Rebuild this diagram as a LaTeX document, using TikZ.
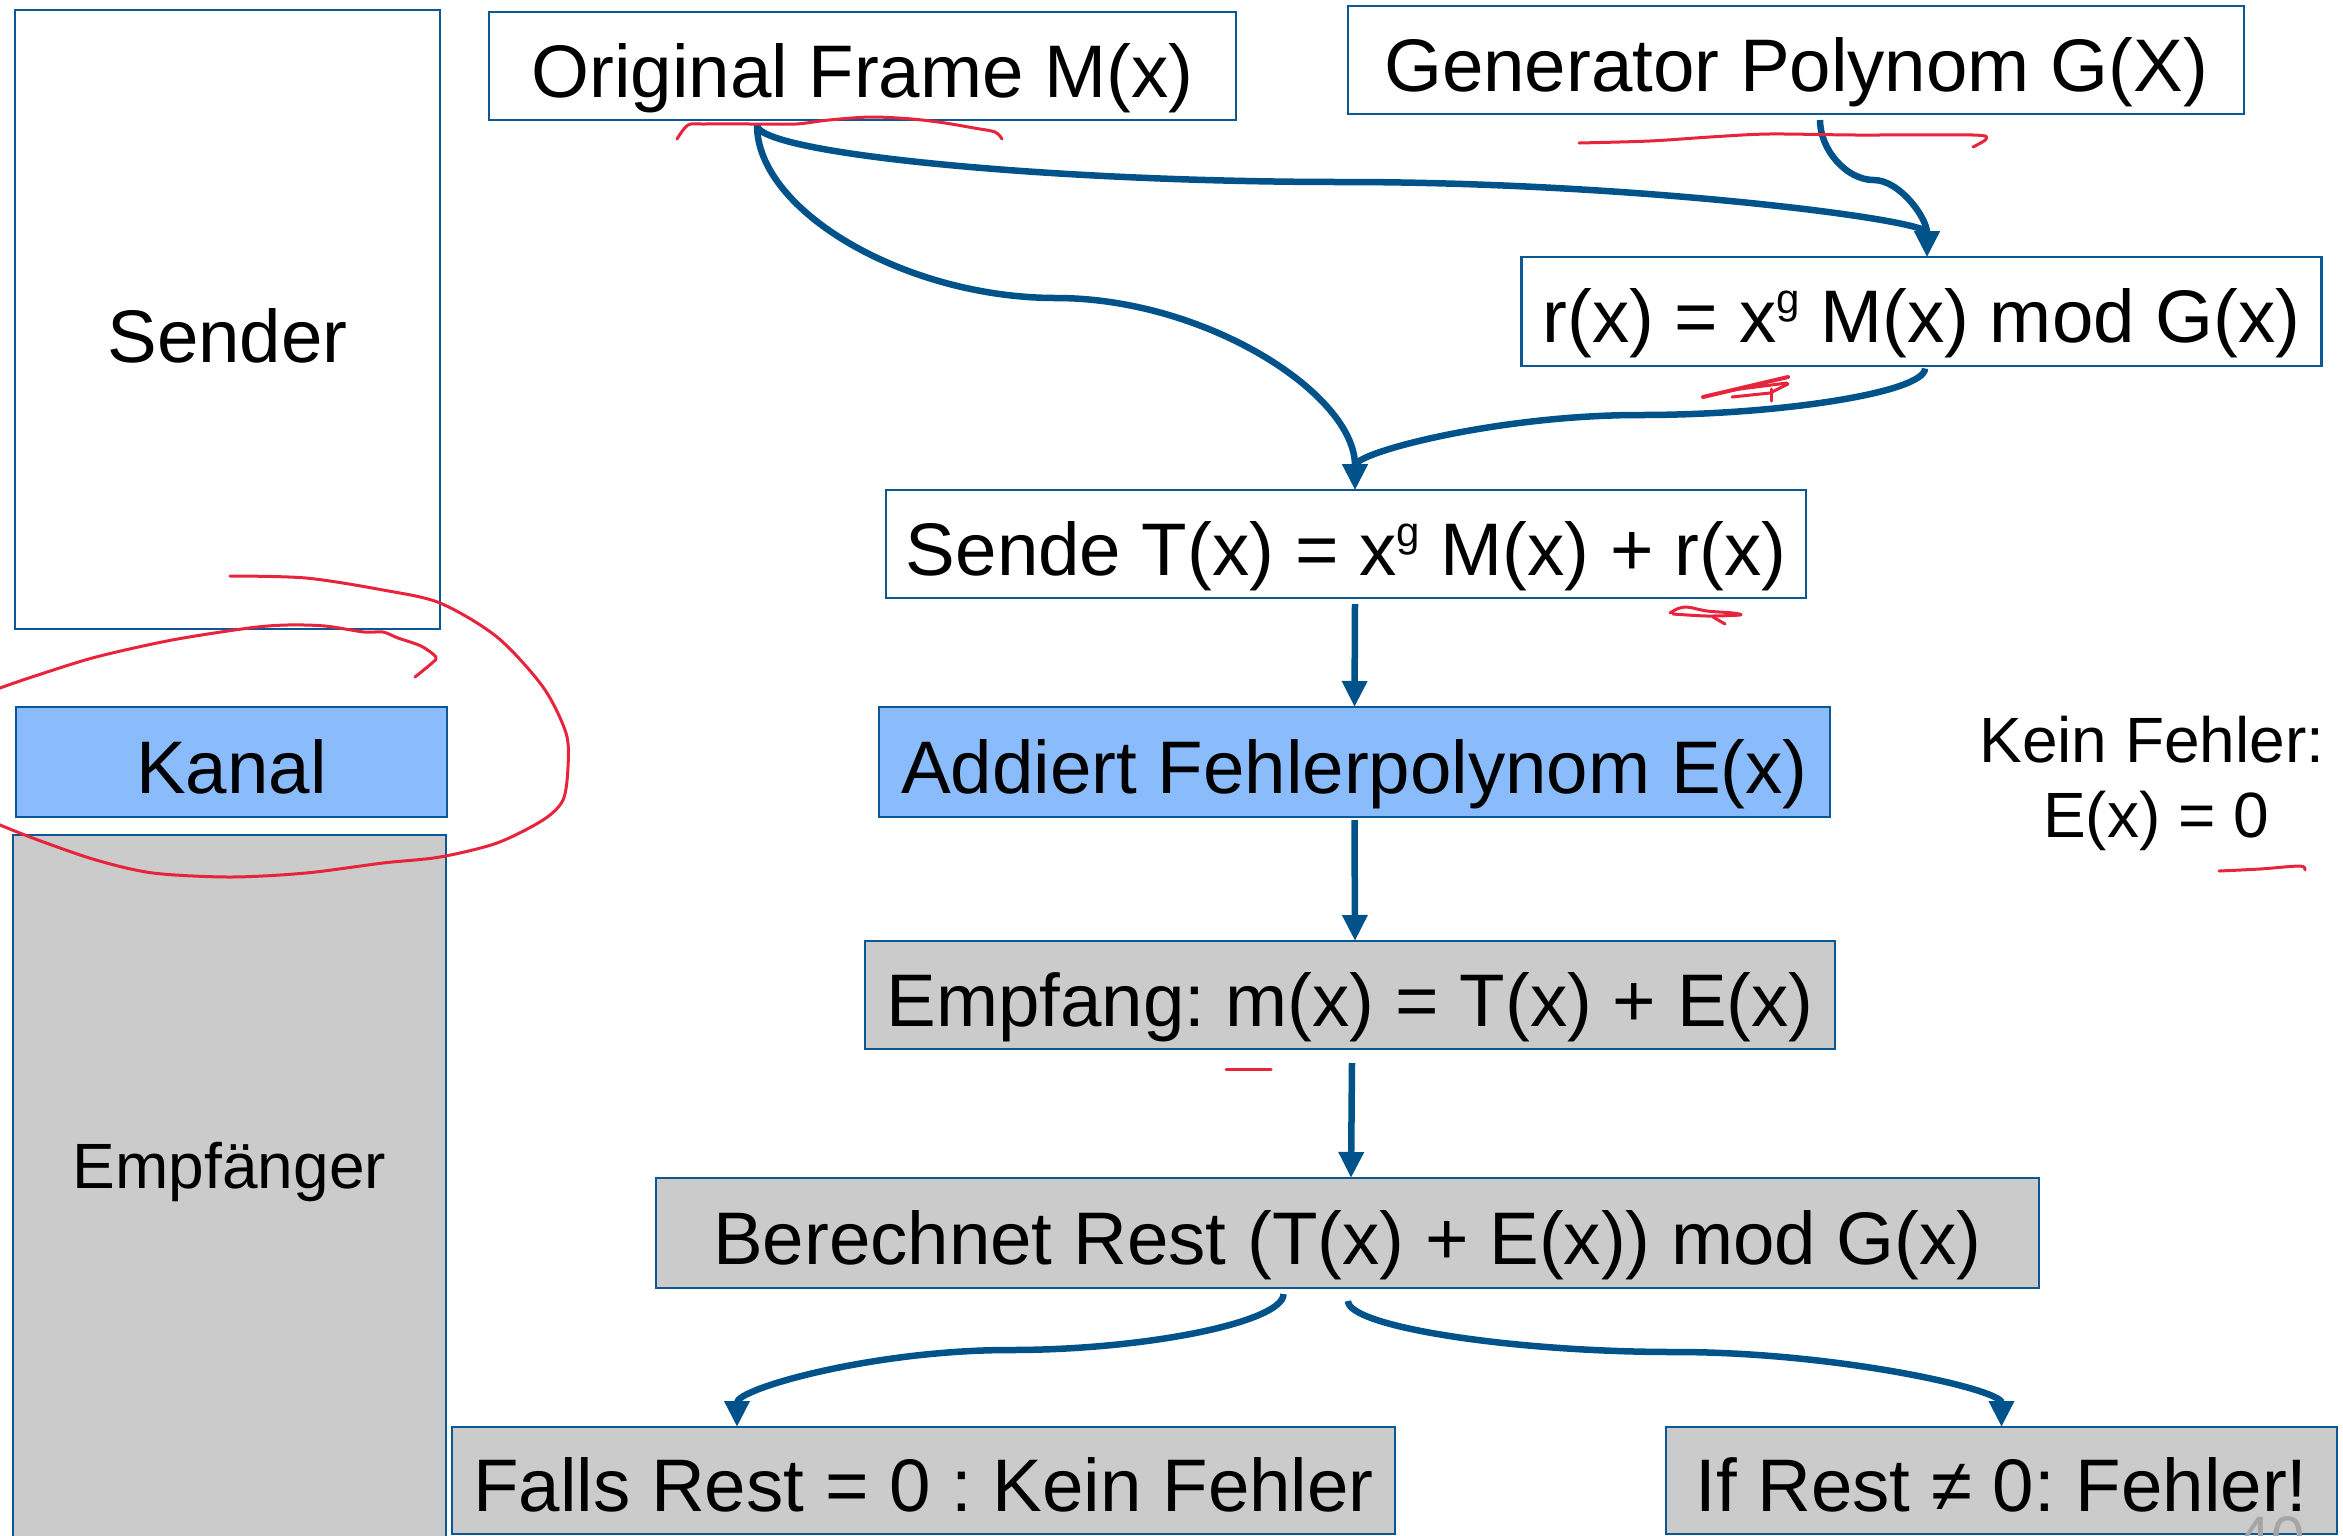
\documentclass[tikz,border=0pt]{standalone}
\usepackage{fontspec}
\setmainfont{Liberation Sans}
\usetikzlibrary{arrows.meta}
\definecolor{conncol}{RGB}{0,83,138}
\definecolor{boxline}{RGB}{12,88,148}
\definecolor{kanalblue}{RGB}{138,187,250}
\definecolor{boxgray}{RGB}{203,203,203}
\definecolor{inkred}{RGB}{232,35,60}
\definecolor{pagegray}{RGB}{165,165,165}
\newcommand\fbig{\fontsize{74.5pt}{89pt}\selectfont}
\newcommand\fmid{\fontsize{64pt}{75pt}\selectfont}
\newcommand\supg{\raisebox{29pt}{\fontsize{42pt}{42pt}\selectfont g}}
\frenchspacing
\begin{document}
\frenchspacing
\begin{tikzpicture}[x=1pt,y=-1pt,
  box/.style={draw=boxline,line width=2.5pt,inner sep=0pt,outer sep=0pt,font=\fbig\frenchspacing,text height=68pt,text depth=6pt,minimum height=108pt},
  conn/.style={draw=conncol,line width=6.5pt,-{Triangle[length=26pt,width=24pt]}},
  ink/.style={draw=inkred,line width=3pt,line cap=round,line join=round},
  txt/.style={inner sep=0pt,anchor=base}]
\fill[white] (0,0) rectangle (2343,1535);
\useasboundingbox (0,0) rectangle (2343,1535);

% left column
\node[box,minimum width=425pt,minimum height=619pt] (sender) at (227.5,319.5) {};
\node[txt,font=\fbig] (sendertext) at (227.5,362) {Sender};
\node[box,fill=kanalblue,minimum width=431pt,minimum height=110pt] (kanal) at (231.5,762) {Kanal};
\node[box,fill=boxgray,minimum width=433pt,minimum height=725pt] (empf) at (229.5,1197.5) {};
\node[txt,font=\fmid] (empftext) at (229.5,1188) {Empfänger};

% flow boxes
\node[box,minimum width=747pt] (of) at (862.5,66) {Original Frame M(x)};
\node[box,minimum width=896pt] (gen) at (1796,60) {Generator Polynom G(X)};
\node[box,minimum width=800pt,minimum height=109pt] (rx) at (1921.5,311.5) {r(x) = x\supg{} M(x) mod G(x)};
\node[box,minimum width=920pt] (sende) at (1346,544) {Sende T(x) = x\supg{} M(x) + r(x)};
\node[box,fill=kanalblue,minimum width=951pt,minimum height=110pt] (add) at (1354.5,762) {Addiert Fehlerpolynom E(x)};
\node[box,fill=boxgray,minimum width=970pt] (empfang) at (1350,995) {Empfang: m(x) = T(x) + E(x)};
\node[box,fill=boxgray,minimum width=1383pt,minimum height=110pt] (ber) at (1347.5,1233) {Berechnet Rest (T(x) + E(x)) mod G(x)};
\node[box,fill=boxgray,minimum width=943pt,minimum height=107pt] (falls) at (923.5,1480.5) {Falls Rest = 0 : Kein Fehler};
\node[box,fill=boxgray,minimum width=671pt,minimum height=107pt] (ifn) at (2001.5,1480.5) {If Rest ≠ 0: Fehler!};

\node[txt,font=\fmid] (kein1) at (2152,762) {Kein Fehler:};
\node[txt,font=\fmid] (kein2) at (2156,837) {E(x) = 0};
\node[txt,font=\fontsize{60pt}{72pt}\selectfont,text=pagegray] (pnum) at (2271,1558) {40};

% waypoints of curved connectors
\coordinate (m1) at (1342,182);
\coordinate (m2) at (1056,298);
\coordinate (m3) at (1873.5,180);
\coordinate (m4) at (1640,415);
\coordinate (m8) at (1010,1350);
\coordinate (m9) at (1674.5,1352);

% connectors
\draw[conn] ([xshift=-105.5pt,yshift=-5pt]of.south) .. controls +(0,28.5) and +(-292.5,0) .. (m1)
  .. controls +(292.5,0) and +(0,-37.5) .. ([xshift=5.5pt]rx.north);
\draw[conn] ([xshift=-105.5pt,yshift=-5pt]of.south) .. controls +(0,86.5) and +(-149.5,0) .. (m2)
  .. controls +(149.5,0) and +(0,-96) .. ([xshift=9pt]sende.north);
\draw[conn] ([xshift=24pt,yshift=-6pt]gen.south) .. controls +(0,30) and +(-26.75,0) .. (m3)
  .. controls +(26.75,0) and +(0,-38.5) .. ([xshift=5.5pt]rx.north);
\draw[conn] ([xshift=3.5pt,yshift=-2.5pt]rx.south) .. controls +(0,23.5) and +(142.5,0) .. (m4)
  .. controls +(-142.5,0) and +(0,-37.5) .. ([xshift=9pt]sende.north);
\draw[conn] ([xshift=9pt,yshift=-6pt]sende.south) -- (add.north);
\draw[conn] ([yshift=-3pt]add.south) -- ([xshift=5pt]empfang.north);
\draw[conn] ([xshift=2pt,yshift=-14pt]empfang.south) -- ([xshift=3.5pt]ber.north);
\draw[conn] ([xshift=-64pt,yshift=-6pt]ber.south) .. controls +(0,28) and +(136.6,0) .. (m8)
  .. controls +(-136.6,0) and +(0,-38.5) .. ([xshift=-186.5pt]falls.north);
\draw[conn] ([xshift=0.5pt,yshift=-13pt]ber.south) .. controls +(0,25.5) and +(-163.25,0) .. (m9)
  .. controls +(163.25,0) and +(0,-37.5) .. (ifn.north);

% red handwritten marks
\draw[ink] plot[smooth] coordinates {(677,139) (688,125) (705,124) (755,124) (796,124) (829,120) (871,117) (912,119) (945,123) (974,128) (995,132) (1002,139)};
\draw[ink] plot[smooth] coordinates {(1579,143) (1650,141) (1710,137) (1769,134) (1856,135) (1973,135) (1986,139) (1973,147)};
\draw[ink,line width=4pt] (1703,397) -- (1788,377);
\draw[ink] (1732,390) -- (1787,383);
\draw[ink] (1732,397) -- (1770,393) -- (1788,384);
\draw[ink] (1771,389) -- (1771,401);
\draw[ink] plot[smooth] coordinates {(1670,613) (1677,609) (1687,607) (1707,611) (1733,613) (1740,615) (1707,616) (1673,614)};
\draw[ink] (1713,617) -- (1725,624);
\draw[ink] plot[smooth] coordinates {(2219,871) (2260,869) (2300,866) (2305,870)};
\draw[ink] (1226,1069) -- (1271,1069);
\draw[ink] plot[smooth] coordinates {(230,576) (306,578) (383,590) (440,603) (497,637) (543,687) (566,733) (568,767) (563,800) (543,820) (497,843) (440,857) (383,863) (306,873) (230,877) (153,873) (96,860) (38,840) (0,825) (-10,820)};
\draw[ink] plot[smooth] coordinates {(-10,693) (0,688) (38,675) (96,657) (172,640) (249,628) (287,625) (325,626) (364,632) (383,632) (398,638) (421,646) (436,657) (432,663) (415,677)};
\end{tikzpicture}
\end{document}
